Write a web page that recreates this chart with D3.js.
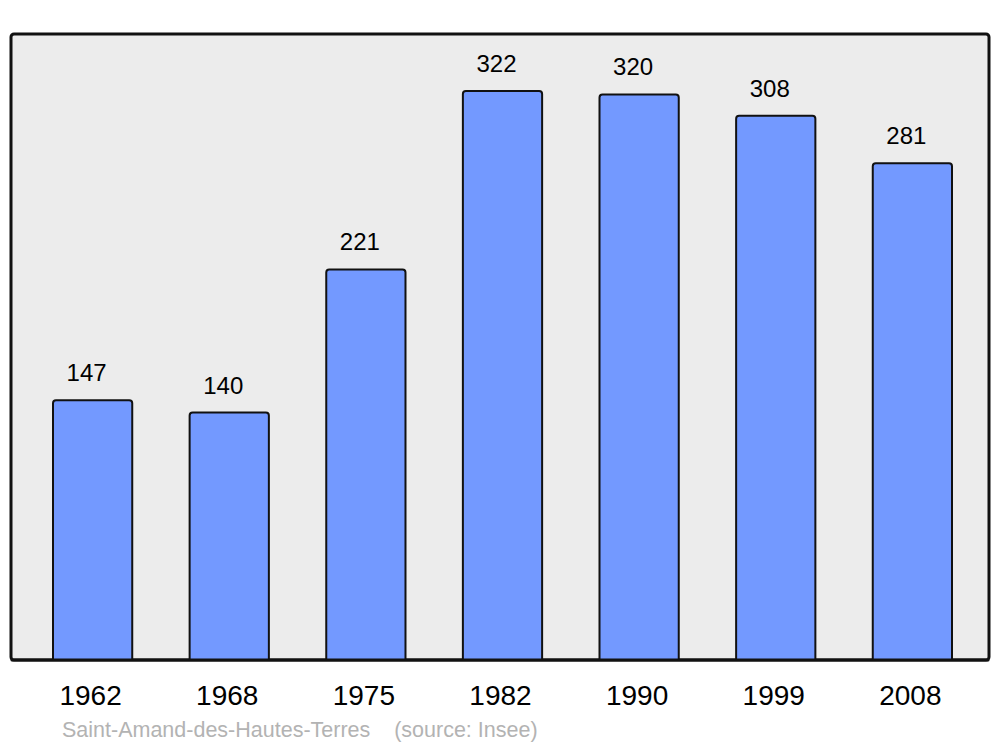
<!DOCTYPE html>
<html>
<head>
<meta charset="utf-8">
<script src="https://cdn.jsdelivr.net/npm/d3@7"></script>
<style>
  body { margin: 0; background: #fff; }
  text { font-family: "Liberation Sans", Arial, sans-serif; }
</style>
</head>
<body>
<svg width="1000" height="747"></svg>
<script>
var years = ["1962", "1968", "1975", "1982", "1990", "1999", "2008"];
var population = [147, 140, 221, 322, 320, 308, 281];
var caption = "Saint-Amand-des-Hautes-Terres\u00a0\u00a0\u00a0\u00a0(source: Insee)";

var svg = d3.select("svg");
var panelLeft = 11, panelRight = 989, panelTop = 34, panelBottom = 660;

var x = d3.scaleBand()
    .domain(years)
    .range([53, 952])
    .paddingInner(0.42)
    .paddingOuter(0);

var y = d3.scaleLinear()
    .domain([0, d3.max(population) * 1.1])
    .range([panelBottom, panelTop]);

// background panel
svg.append("rect")
    .attr("x", panelLeft).attr("y", panelTop)
    .attr("width", panelRight - panelLeft).attr("height", panelBottom - panelTop)
    .attr("rx", 3)
    .attr("fill", "#ececec")
    .attr("stroke", "#111")
    .attr("stroke-width", 3);

var data = years.map(function(d, i) { return { year: d, value: population[i] }; });

// bars with rounded top corners
svg.selectAll("path.bar")
    .data(data)
    .enter()
    .append("path")
    .attr("class", "bar")
    .attr("d", function(d) {
        var x0 = x(d.year), x1 = x0 + x.bandwidth(), yt = y(d.value), r = 3;
        return "M" + x0 + "," + panelBottom +
            "V" + (yt + r) +
            "Q" + x0 + "," + yt + " " + (x0 + r) + "," + yt +
            "H" + (x1 - r) +
            "Q" + x1 + "," + yt + " " + x1 + "," + (yt + r) +
            "V" + panelBottom + "Z";
    })
    .attr("fill", "#7399ff")
    .attr("stroke", "#111")
    .attr("stroke-width", 2);

// redraw bottom edge of panel over bars
svg.append("line")
    .attr("x1", panelLeft + 1).attr("x2", panelRight - 1)
    .attr("y1", panelBottom).attr("y2", panelBottom)
    .attr("stroke", "#111").attr("stroke-width", 3)
    .attr("stroke-linecap", "round");

// value labels (sit a little left of the bar centre, as in the original)
svg.selectAll("text.value")
    .data(data)
    .enter()
    .append("text")
    .attr("class", "value")
    .attr("x", function(d) { return x(d.year) + x.bandwidth() / 2 - 6; })
    .attr("y", function(d) { return y(d.value) - 19; })
    .attr("text-anchor", "middle")
    .attr("font-size", 24)
    .attr("fill", "#000")
    .text(function(d) { return d.value; });

// year axis labels
svg.selectAll("text.year")
    .data(years)
    .enter()
    .append("text")
    .attr("class", "year")
    .attr("x", function(d) { return x(d) + x.bandwidth() / 2 - 2; })
    .attr("y", 705)
    .attr("text-anchor", "middle")
    .attr("font-size", 28)
    .attr("fill", "#000")
    .text(function(d) { return d; });

svg.append("text")
    .attr("x", 62)
    .attr("y", 737)
    .attr("font-size", 21.5)
    .attr("fill", "#b3b3b3")
    .text(caption);
</script>
</body>
</html>
